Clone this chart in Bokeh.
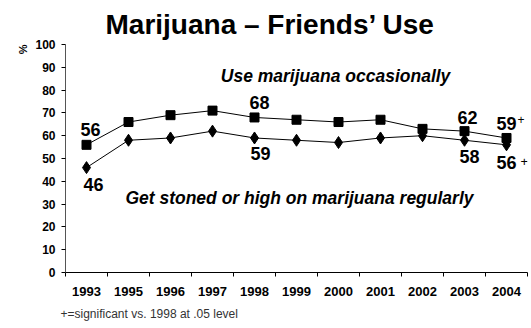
from bokeh.plotting import figure
from bokeh.models import FixedTicker, Label, Range1d, Title
from bokeh.embed import file_html
from bokeh.resources import INLINE

# Survey years and percentages
years = ["1993", "1995", "1996", "1997", "1998", "1999",
         "2000", "2001", "2002", "2003", "2004"]
occasional = [56, 66, 69, 71, 68, 67, 66, 67, 63, 62, 59]
regular = [46, 58, 59, 62, 59, 58, 57, 59, 60, 58, 56]
y_ticks = [0, 10, 20, 30, 40, 50, 60, 70, 80, 90, 100]

# Which years get a value label (pixel offset from the point), and which are significant
occ_labelled = {"1993": (4, 15), "1998": (5, 15), "2003": (3, 14), "2004": (0, 14)}
reg_labelled = {"1993": (7, -17), "1998": (6, -16), "2003": (5, -16), "2004": (0, -18)}
significant = {"2004"}

FONT = "Liberation Sans"
W, H = 531, 328
LEFT, RIGHT, TOP, BOTTOM = 65, 4, 44, 56
n = len(years)
frame_w = W - LEFT - RIGHT
frame_h = H - TOP - BOTTOM
px_x = frame_w / n          # pixels per category
px_y = frame_h / 100.0      # pixels per percentage point

p = figure(width=W, height=H, output_backend="svg", toolbar_location=None,
           x_range=Range1d(0, n), y_range=Range1d(0, 100),
           min_border_left=LEFT, min_border_right=RIGHT,
           min_border_top=TOP, min_border_bottom=BOTTOM)
p.outline_line_color = None
p.grid.visible = False
p.background_fill_color = "white"
p.border_fill_color = "white"

# Title
p.title.text = "Marijuana \u2013 Friends\u2019 Use"
p.title.align = "left"
p.title.offset = 40
p.title.text_font = FONT
p.title.text_font_size = "28px"
p.title.text_font_style = "bold"
p.title.text_color = "black"
p.title.standoff = 10

centers = [i + 0.5 for i in range(n)]

# x axis: labels at category centres, tick marks at category boundaries
xa = p.xaxis[0]
xa.ticker = FixedTicker(ticks=centers, minor_ticks=list(range(n + 1)))
xa.major_label_overrides = {c: y for c, y in zip(centers, years)}
xa.major_tick_line_color = None
xa.minor_tick_line_color = "black"
xa.minor_tick_out = 4
xa.minor_tick_in = 0
xa.axis_line_color = "black"
xa.major_label_text_font = FONT
xa.major_label_text_font_size = "13px"
xa.major_label_text_font_style = "bold"
xa.major_label_text_color = "black"
xa.major_label_standoff = 8

ya = p.yaxis[0]
ya.ticker = FixedTicker(ticks=y_ticks)
ya.minor_tick_line_color = None
ya.major_tick_out = 4
ya.major_tick_in = 0
ya.major_tick_line_color = "black"
ya.axis_line_color = "#555555"
ya.major_label_text_font = FONT
ya.major_label_text_font_size = "12px"
ya.major_label_text_font_style = "bold"
ya.major_label_text_color = "black"
ya.major_label_standoff = 6

# Series
p.line(centers, occasional, line_color="black", line_width=1)
p.scatter(centers, occasional, marker="square", size=9, color="black")
p.line(centers, regular, line_color="black", line_width=1)
p.scatter(centers, regular, marker="diamond", size=12, color="black")


def put(text, x, y, dx=0, dy=0, size="18px", style="bold", align="center"):
    p.add_layout(Label(x=x + dx / px_x, y=y + dy / px_y, text=text,
                       text_font=FONT, text_font_size=size,
                       text_font_style=style, text_color="black",
                       text_align=align, text_baseline="middle"))


for i, yr in enumerate(years):
    if yr in occ_labelled:
        dx, dy = occ_labelled[yr]
        put(str(occasional[i]), centers[i], occasional[i], dx, dy)
        if yr in significant:
            put("+", centers[i], occasional[i], dx + 11, dy + 4,
                size="12px", style="normal", align="left")
    if yr in reg_labelled:
        dx, dy = reg_labelled[yr]
        put(str(regular[i]), centers[i], regular[i], dx, dy)
        if yr in significant:
            put("+", centers[i], regular[i], dx + 14, dy + 1,
                size="13px", style="normal", align="left")

# Series names
put("Use marijuana occasionally", 6.43, 86.4, size="17.5px", style="bold italic")
put("Get stoned or high on marijuana regularly", 5.57, 32.5,
    size="17.5px", style="bold italic")

# Unit marker beside the y axis and footnote under the x axis
p.add_layout(Title(text="%", align="right", text_font=FONT, text_font_size="11px",
                   text_font_style="bold", text_color="black", standoff=8), "left")
p.add_layout(Title(text="+=significant vs. 1998 at .05 level", align="left", offset=-5,
                   text_font=FONT, text_font_size="12px", text_font_style="normal",
                   text_color="#333333", standoff=12), "below")

open("out.html", "w").write(file_html(p, INLINE))
